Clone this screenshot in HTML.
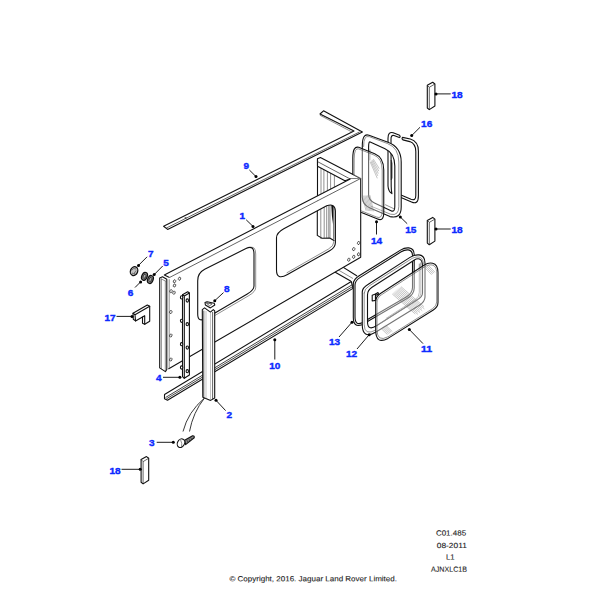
<!DOCTYPE html>
<html><head><meta charset="utf-8"><title>Parts diagram</title>
<style>
html,body{margin:0;padding:0;background:#fff;}
body{width:600px;height:600px;overflow:hidden;font-family:"Liberation Sans",sans-serif;}
svg{display:block}
.o{stroke:#111;stroke-width:1.1;stroke-linejoin:round;stroke-linecap:round}
.w{fill:#fff}
.t{stroke:#444;stroke-width:0.6;fill:none;stroke-linecap:round}
.t2{stroke:#222;stroke-width:0.7;fill:none}
.h{stroke:#7a7a7a;stroke-width:0.45;fill:none}
.ld{stroke:#111;stroke-width:0.95}
.lb{font-family:"Liberation Sans",sans-serif;font-weight:bold;font-size:8.8px;fill:#0c2aff;stroke:#0c2aff;stroke-width:0.35}
.ft{font-family:"Liberation Sans",sans-serif;font-size:7.4px;fill:#1a1a1a;stroke:#1a1a1a;stroke-width:0.1}
path.o:not(.w):not([fill]){fill:none}
</style></head><body>
<svg width="600" height="600" viewBox="0 0 600 600">
<rect width="600" height="600" fill="#fff"/>
<g id="p9">
<path class="o w" d="M163.6,226.3 L354,131 L320,114 L323.5,110.8 L362.4,132 L167.6,229.4 Z"/>
<path class="t2" d="M166.2,228.1 L359.6,131.9"/>
<path class="t" d="M320.2,115.4 L351.8,131.9"/>
<ellipse cx="185.6" cy="218" rx="1.1" ry="0.8" fill="#333"/>
</g>
<g id="ret">
<path class="w" stroke="none" d="M317.5,158.7 L320.4,157.5 L360.7,178.5 L360.7,256 L317.5,256 Z"/>
<line class="t" x1="321" y1="168.1" x2="321" y2="250"/>
<line class="t" x1="323.9" y1="169.6" x2="323.9" y2="250"/>
<line class="t" x1="327.4" y1="171.5" x2="327.4" y2="250"/>
<line class="t" x1="330.6" y1="173.2" x2="330.6" y2="250"/>
<line class="t" x1="334.4" y1="175.2" x2="334.4" y2="250"/>
<path class="o" d="M317.5,158.7 L317.5,250"/>
<path class="o w" d="M317.5,158.7 L320.4,157.5 L360.7,178.5 L350.2,179 L344.9,180.8 L317.5,166.25 Z"/>
<path class="t2" d="M317.5,161.6 L350.2,179"/>
</g>
<g id="p10b">
<path class="w" stroke="none" d="M330,268.5 L337,264.2 L356.7,275.8 L351.3,281.5 Z"/>
<path class="o" d="M337,263.4 L356.7,275.8 M330,269.3 L350.6,280.9"/>
<path class="t" d="M333,266.9 L352.6,278.3"/>
</g>
<g id="p1">
<path class="w" stroke="none" d="M164.3,275 L350.2,179 L360.6,178.5 L169.5,277.5 Z"/>
<path class="o" d="M169.5,277.5 L164.3,275 L350.2,179"/>
<path class="w" stroke="none" d="M166.7,279.2 L169.5,277.5 L360.7,178.5 L360.7,257.2 L168.75,368.75 L166.7,368.75 Z"/>
<path class="o" d="M360.7,178.5 L360.7,257.2 L168.75,368.75"/>
<path class="t" d="M169.2,279.6 L169.2,368.5"/>
<path class="t2" d="M169.5,277.5 L360.6,178.5"/>
<path class="o w" d="M159.7,278 L162.5,276.8 L166.8,279.3 L166.8,369.5 L165.4,371.6 L159.7,367.9 Z"/>
<path class="t" d="M161.4,279 L161.4,368.9 M165.3,281 L165.3,371.2 M161.4,279 L165.3,281"/>
<ellipse cx="179.5" cy="278.7" rx="1.15" ry="1.6" class="t2" transform="rotate(20 179.5 278.7)"/>
<ellipse cx="174.5" cy="281.3" rx="1.15" ry="1.6" class="t2" transform="rotate(20 174.5 281.3)"/>
<ellipse cx="174.5" cy="285.5" rx="1.15" ry="1.6" class="t2" transform="rotate(20 174.5 285.5)"/>
<ellipse cx="171" cy="291.2" rx="1.15" ry="1.6" class="t2" transform="rotate(20 171 291.2)"/>
<ellipse cx="174" cy="292.7" rx="1.15" ry="1.6" class="t2" transform="rotate(20 174 292.7)"/>
<ellipse cx="170.8" cy="312" rx="1.15" ry="1.6" class="t2" transform="rotate(20 170.8 312)"/>
<ellipse cx="170.8" cy="335.5" rx="1.15" ry="1.6" class="t2" transform="rotate(20 170.8 335.5)"/>
<ellipse cx="170.8" cy="359.5" rx="1.15" ry="1.6" class="t2" transform="rotate(20 170.8 359.5)"/>
<ellipse cx="358.6" cy="243" rx="1.15" ry="1.6" class="t2" transform="rotate(20 358.6 243)"/>
<ellipse cx="353.7" cy="249.1" rx="1.15" ry="1.6" class="t2" transform="rotate(20 353.7 249.1)"/>
<ellipse cx="358.6" cy="254.3" rx="1.15" ry="1.6" class="t2" transform="rotate(20 358.6 254.3)"/>
<ellipse cx="353.7" cy="256.8" rx="1.15" ry="1.6" class="t2" transform="rotate(20 353.7 256.8)"/>
<ellipse cx="348.8" cy="259.7" rx="1.15" ry="1.6" class="t2" transform="rotate(20 348.8 259.7)"/>
<path class="t" d="M249.5,247.6 Q255.7,245.2 255.7,254 L255.7,287.5 Q255.7,291.6 249,295.5 L207.7,319.7"/>
<path class="o w" d="M197.7,280.7 Q197.7,272.9 204.7,269.3 L246,248.5 Q254,244.6 254,254 L254,286 Q254,290.1 247.3,294 L206,318.2 Q197.7,323 197.7,314 Z"/>
<clipPath id="crw"><path d="M276.5,237.8 Q276.5,232.7 283.8,228.7 L326.7,205.7 Q335,203 335.4,211 L335.4,242.4 Q335.4,247.5 329.7,250.7 L287.5,274.5 Q276.5,280.7 276.5,270 Z"/></clipPath>
<path class="w" stroke="none" d="M276.5,237.8 Q276.5,232.7 283.8,228.7 L326.7,205.7 Q335,203 335.4,211 L335.4,242.4 Q335.4,247.5 329.7,250.7 L287.5,274.5 Q276.5,280.7 276.5,270 Z"/>
<g clip-path="url(#crw)">
<path class="o" d="M317.3,200 L317.3,235.4 L322,238.3 L329.6,238 L334,240.5"/>
<line class="t" x1="320.8" y1="200" x2="320.8" y2="238.5"/>
<line class="t" x1="324.2" y1="200" x2="324.2" y2="238.5"/>
<line class="t" x1="326.7" y1="200" x2="326.7" y2="238.5"/>
<line class="t" x1="328.75" y1="200" x2="328.75" y2="238.5"/>
<line class="t" x1="330" y1="200" x2="330" y2="238.5"/>
<line class="t" x1="333.75" y1="200" x2="333.75" y2="238.5"/>
<path d="M331.2,204 L333.1,204 L333.1,224.8 Q331.6,216 331.2,204 Z" fill="#111"/>
<path class="t" d="M333.8,207 L333.8,242 Q333.8,246 328.5,249 L287,272.7"/>
</g>
<path class="o" fill="none" d="M276.5,237.8 Q276.5,232.7 283.8,228.7 L326.7,205.7 Q335,203 335.4,211 L335.4,242.4 Q335.4,247.5 329.7,250.7 L287.5,274.5 Q276.5,280.7 276.5,270 Z"/>
</g>
<g id="p10">
<path class="o w" d="M164.5,394.5 L351.3,281.5 L353,288.4 L167.5,400.2 L164.5,398.8 Z"/>
<path class="o" style="stroke-width:0.85;stroke:#222" d="M165.9,397.3 L352.1,284.8 M166.7,398.7 L352.6,286.6"/>
</g>
<g id="p4">
<path class="o w" d="M182.5,294.8 L187.7,291.8 L189.4,293 L189.4,375 L184.3,378.3 L182.5,376.7 Z"/>
<path class="o" d="M184.3,296 L184.3,378.3 M184.3,296 L189.4,293 M182.5,294.8 L184.3,296"/>
<ellipse cx="181.6" cy="297.4" rx="1.2" ry="1.6" class="o w"/>
<ellipse cx="181.6" cy="320.8" rx="1.2" ry="1.6" class="o w"/>
<ellipse cx="181.6" cy="344.2" rx="1.2" ry="1.6" class="o w"/>
<ellipse cx="181.6" cy="367.5" rx="1.2" ry="1.6" class="o w"/>
<ellipse cx="187.3" cy="300.5" rx="1.2" ry="1.6" class="o w"/>
<ellipse cx="187.3" cy="324.2" rx="1.2" ry="1.6" class="o w"/>
<ellipse cx="187.3" cy="347.6" rx="1.2" ry="1.6" class="o w"/>
<ellipse cx="187.3" cy="371.2" rx="1.2" ry="1.6" class="o w"/>
</g>
<path class="t2" style="stroke-width:0.9" fill="none" d="M204.5,398 Q188,412 183,431.5 M204.5,398 Q193,412.5 189.5,431.5"/>
<g id="p2">
<path class="o w" d="M202.3,309.6 L204.6,307.9 L210.4,312.1 L213.3,309.6 L214.7,310.8 L214.7,398 L210.6,400.4 L202.8,397.2 Z"/>
<path class="t2" d="M203.8,310.6 L203.8,397.6 M212.6,312 L212.6,399.2"/>
<path class="h" d="M206,311 L206,398.4 M210.5,312.1 L210.5,400.3"/>
</g>
<path class="o w" d="M205,302.5 L207.1,301.7 L214.2,303.3 L214.8,305 L210.4,307.9 L205.4,305 Z"/>
<path class="t2" d="M206.3,303 L212.1,303.8 L209.6,305.8 Z" fill="#ccc"/>
<ellipse cx="134.05" cy="271.1" rx="3.6" ry="4.5" transform="rotate(22 134.05 271.1)" fill="#c4c4c4" stroke="#111" stroke-width="1.3"/>
<path d="M131.6,270.2 Q133.5,267.4 136,269 M134.6,274.2 Q134.2,271.5 136.3,270.5 M132,273 L134.6,274.2" fill="none" stroke="#333" stroke-width="0.6"/>
<ellipse cx="144.5" cy="276.3" rx="2.7" ry="4.1" transform="rotate(22 144.5 276.3)" fill="#808080" stroke="#111" stroke-width="1.2"/>
<ellipse cx="144.5" cy="276.3" rx="1.3" ry="2.1" transform="rotate(22 144.5 276.3)" fill="#b0b0b0" stroke="#222" stroke-width="0.7"/>
<ellipse cx="150.4" cy="279.5" rx="2.7" ry="4.1" transform="rotate(22 150.4 279.5)" fill="#808080" stroke="#111" stroke-width="1.2"/>
<ellipse cx="150.4" cy="279.5" rx="1.3" ry="2.1" transform="rotate(22 150.4 279.5)" fill="#b0b0b0" stroke="#222" stroke-width="0.7"/>
<path class="o w" d="M133,313.3 L147.3,305 L149.7,306.3 L149.7,321.3 L144.7,324.3 L142.5,323.3 L142.5,317 L135.5,320.9 L133.3,319.3 Z"/>
<path class="o" d="M133,313.3 L135,314.7 L149.7,306.3 M135,314.7 L135.5,320.9 M144.7,315.7 L144.7,324.3 M142.5,317 L144.7,315.7"/>
<path class="o" fill="#8a8a8a" d="M184.6,440.2 L192.6,435.8 Q194.6,435.6 194.2,437.8 L185.6,444.6 Z"/>
<path d="M186.6,439.4 L188,442.6 M188.6,438.3 L190,441.2 M190.6,437.2 L191.9,439.8" stroke="#222" stroke-width="0.6" fill="none"/>
<ellipse cx="181" cy="443.2" rx="3.5" ry="4.5" transform="rotate(28 181 443.2)" class="o" fill="#fff"/>
<path class="t" d="M180.8,440.3 Q182.4,443.5 181.6,446.4"/>
<g transform="translate(0,0)">
<path class="o w" d="M427.3,85.3 L432.7,82.3 L434.9,84 L434.9,106 L429.3,109.6 L427.3,108 Z"/>
<path class="t2" d="M427.3,85.3 L429.3,87.3 L434.9,84 M429.3,87.3 L429.3,109.6"/>
</g>
<g transform="translate(0,135.1)">
<path class="o w" d="M427.3,85.3 L432.7,82.3 L434.9,84 L434.9,106 L429.3,109.6 L427.3,108 Z"/>
<path class="t2" d="M427.3,85.3 L429.3,87.3 L434.9,84 M429.3,87.3 L429.3,109.6"/>
</g>
<g transform="translate(-286.2,374.3)">
<path class="o w" d="M427.3,85.3 L432.7,82.3 L434.9,84 L434.9,106 L429.3,109.6 L427.3,108 Z"/>
<path class="t2" d="M427.3,85.3 L429.3,87.3 L434.9,84 M429.3,87.3 L429.3,109.6"/>
</g>
<g id="p16">
<path class="o" fill="#fff" d="M402.6,137.4 L410.3,139 Q418.4,141.5 418.4,151 L418.4,196 Q418.4,205 411.5,201.9 L398,196.3 L398,193.8 L411,199.3 Q415.8,201 415.8,195.5 L415.8,151.5 Q415.8,143.8 409.8,141.6 L402.9,139.9 Q401.3,138.5 402.6,137.4 Z"/>
<path class="o" fill="#fff" d="M399.6,135.3 L393.2,132.7 Q388,131.3 388,138.3 L388,186 Q388.4,191.5 391.9,193.6 Q391.2,190 391.2,186.3 L391,139.5 Q390.8,134.6 394,135.5 L399.3,137.6 Q400.9,136.8 399.6,135.3 Z"/>
<path d="M391.2,160 L392.1,163 L392.1,178 L391.2,180 Z" fill="#222" stroke="#222" stroke-width="0.5"/>
</g>
<path class="o" fill="#fff" fill-rule="evenodd" d="M362.3,146 Q362.3,132.8 369,135.3 L388,142.2 Q401.2,147 401.2,162 L401.2,207 Q401.2,219.2 390,216.6 L370,208 Q362.3,204.7 362.3,197 Z M368.6,147 Q368.6,141.2 370.2,141.9 L385,148.8 Q394.8,153.3 394.8,166 L394.8,206.5 Q394.8,212.6 391,210.7 L374.5,203 Q368.6,200.2 368.6,194.5 Z"/>
<path class="t" fill="none" d="M363.6,146.5 Q363.6,134.6 369.4,136.7 L387.4,143.5 Q398.8,147.8 398.8,162 L398.8,206.5 Q398.8,216.2 390.5,214.2 L371,206.2"/>
<path class="t" fill="none" d="M393.6,208.6 L385.5,204.8 M369.9,150 L369.9,160"/>
<clipPath id="c14"><rect x="361.1" y="100" width="60" height="200"/><path d="M340,100 L420,100 L420,178.9 L361.1,178.9 L320.4,157.6 L340,140 Z"/></clipPath>
<g clip-path="url(#c14)">
<path class="o" fill="#fff" fill-opacity="0.35" d="M352.8,158 Q352.8,145.6 358.7,147.3 L374.7,153.7 Q383.75,157.5 383.75,170 L383.75,212.5 Q383.75,222 377,218.8 L352.8,209.1 Z"/>
<path class="t" fill="none" d="M354.2,158.5 Q354.2,147.5 358.7,148.9 L374,155 Q382.2,158.5 382.2,170 L382.2,211 Q382.2,219.5 376.5,217 L354.2,208 Z"/>
<line class="h" x1="370.20" y1="162.00" x2="377.30" y2="178.30"/>
<line class="h" x1="370.97" y1="161.28" x2="377.80" y2="175.90"/>
<line class="h" x1="371.75" y1="160.55" x2="378.30" y2="173.50"/>
<line class="h" x1="372.52" y1="159.82" x2="378.80" y2="171.10"/>
<line class="h" x1="373.30" y1="159.10" x2="379.30" y2="168.70"/>
<line class="h" x1="362.40" y1="195.70" x2="366.00" y2="210.60"/>
<line class="h" x1="363.65" y1="195.62" x2="367.25" y2="210.72"/>
<line class="h" x1="364.90" y1="195.54" x2="368.50" y2="210.84"/>
<line class="h" x1="366.15" y1="195.46" x2="369.75" y2="210.96"/>
<line class="h" x1="367.40" y1="195.38" x2="371.00" y2="211.08"/>
<line class="h" x1="368.65" y1="195.30" x2="372.25" y2="211.20"/>
<line class="h" x1="369.90" y1="195.22" x2="373.50" y2="211.32"/>
</g>
<path class="o" fill="#fff" fill-rule="evenodd" d="M353.3,284 Q353.3,279.4 359.2,275.8 L400.5,250.1 C404.5,247.6 414,245.3 414.2,254.5 L414.2,288 Q414.2,294.5 407,298.6 L362,324.7 Q353.3,328 353.3,317.3 Z M355,285 Q355,280.7 360.3,277.4 L401.2,251.8 C404.6,249.7 412.4,247.6 412.5,255.5 L412.5,287.5 Q412.5,293.4 405.8,297.2 L362,322.8 Q355,326 355,316.8 Z"/>
<path class="o" fill="#fff" fill-rule="evenodd" d="M362.25,292 Q362.25,287.8 368.3,284.2 L410,257.4 C414.5,254.5 424.8,251.8 425,263 L425,297 Q425,301.8 419,305.5 L376,332 Q362.25,340 362.25,324.3 Z M367.5,295 Q367.5,290.2 372,287.3 L414,260.2 C417,258.3 422.5,257 422.5,266 L422.5,293 Q422.5,297 417,300 L376.5,325.8 Q367.5,331.5 367.5,321.5 Z"/>
<path class="t" fill="none" d="M364.2,293 Q364.2,289 369.4,285.8 L411,259.1 C415,256.6 423.2,254.4 423.3,264"/>
<path class="t" fill="none" d="M364.2,293 L364.2,324.3 Q364.2,336.5 376,330"/>
<path class="t" fill="none" d="M419.3,264 L419.3,292.5 Q419.3,297 415,299.8 L386.2,318.3"/>
<path class="t" fill="none" d="M420.8,263 L420.8,293.3 Q420.8,297.6 416,300.6 L380,323.6"/>
<path class="o w" d="M372.2,295.2 L375.5,294 L378,292.6 L378.6,294 L375.5,295.6 L375.5,300.4 L372.2,301 Z"/>
<path class="o" d="M375.5,294 L375.5,300.4"/>
<path class="o" fill="#fff" fill-opacity="0.42" d="M375.7,301.7 Q375.7,296.5 380.8,293.3 L424,265.2 C428.5,262.3 437.8,260.6 438,272.5 L438,302.5 Q438,307 433.3,310 L388,338.4 Q375.7,345 375.7,330 Z"/>
<path class="t" fill="none" d="M377,302.5 Q377,297.7 381.6,294.7 L424.6,266.8 C428.6,264.2 436.6,262.6 436.7,273 L436.7,302 Q436.7,305.9 432.5,308.7 L388,336.8 Q377,342.5 377,330 Z"/>
<line class="h" x1="392.30" y1="294.00" x2="415.30" y2="314.01"/>
<line class="h" x1="393.38" y1="293.08" x2="417.88" y2="314.39"/>
<line class="h" x1="394.46" y1="292.16" x2="417.46" y2="312.17"/>
<line class="h" x1="395.54" y1="291.24" x2="420.04" y2="312.56"/>
<line class="h" x1="396.62" y1="290.32" x2="419.62" y2="310.33"/>
<line class="h" x1="397.70" y1="289.40" x2="422.20" y2="310.71"/>
<line class="h" x1="398.78" y1="288.48" x2="421.78" y2="308.49"/>
<line class="h" x1="399.86" y1="287.56" x2="424.36" y2="308.88"/>
<line class="h" x1="400.94" y1="286.64" x2="423.94" y2="306.65"/>
<line class="h" x1="424.60" y1="267.40" x2="431.60" y2="274.70"/>
<line class="h" x1="425.75" y1="266.60" x2="432.75" y2="273.90"/>
<line class="h" x1="426.90" y1="265.80" x2="433.90" y2="273.10"/>
<line class="h" x1="428.05" y1="265.00" x2="435.05" y2="272.30"/>
<line class="h" x1="381.00" y1="328.40" x2="387.50" y2="334.60"/>
<line class="h" x1="382.20" y1="327.65" x2="388.70" y2="333.85"/>
<line class="h" x1="383.40" y1="326.90" x2="389.90" y2="333.10"/>
<line class="h" x1="384.60" y1="326.15" x2="391.10" y2="332.35"/>
<line class="h" x1="385.80" y1="325.40" x2="392.30" y2="331.60"/>
<line x1="253" y1="226.4" x2="246.2" y2="219.8" class="ld"/><circle cx="253" cy="226.4" r="1.5" fill="#000"/>
<text x="239.6" y="218.8" textLength="5.6" lengthAdjust="spacingAndGlyphs" class="lb">1</text>
<line x1="216" y1="400.3" x2="225.6" y2="410.6" class="ld"/><circle cx="216" cy="400.3" r="1.5" fill="#000"/>
<text x="226.5" y="418.1" textLength="5.6" lengthAdjust="spacingAndGlyphs" class="lb">2</text>
<line x1="173.3" y1="442.3" x2="156.7" y2="442.3" class="ld"/><circle cx="173.3" cy="442.3" r="1.5" fill="#000"/>
<text x="148.9" y="446.4" textLength="5.6" lengthAdjust="spacingAndGlyphs" class="lb">3</text>
<line x1="179.9" y1="377.3" x2="163" y2="377.3" class="ld"/><circle cx="179.9" cy="377.3" r="1.5" fill="#000"/>
<text x="156.1" y="381.3" textLength="5.6" lengthAdjust="spacingAndGlyphs" class="lb">4</text>
<line x1="154.2" y1="274.6" x2="162.7" y2="266" class="ld"/><circle cx="154.2" cy="274.6" r="1.5" fill="#000"/>
<text x="163.3" y="266.0" textLength="5.6" lengthAdjust="spacingAndGlyphs" class="lb">5</text>
<line x1="140.6" y1="281.9" x2="135" y2="287.5" class="ld"/><circle cx="140.6" cy="281.9" r="1.5" fill="#000"/>
<text x="127.8" y="296.2" textLength="5.6" lengthAdjust="spacingAndGlyphs" class="lb">6</text>
<line x1="138.5" y1="265.4" x2="147.1" y2="256.8" class="ld"/><circle cx="138.5" cy="265.4" r="1.5" fill="#000"/>
<text x="147.9" y="256.9" textLength="5.6" lengthAdjust="spacingAndGlyphs" class="lb">7</text>
<line x1="214.75" y1="300.7" x2="223.5" y2="292.6" class="ld"/><circle cx="214.75" cy="300.7" r="1.5" fill="#000"/>
<text x="224.0" y="292.4" textLength="5.6" lengthAdjust="spacingAndGlyphs" class="lb">8</text>
<line x1="256" y1="176.6" x2="249.4" y2="170" class="ld"/><circle cx="256" cy="176.6" r="1.5" fill="#000"/>
<text x="243.6" y="169.2" textLength="5.6" lengthAdjust="spacingAndGlyphs" class="lb">9</text>
<line x1="274.8" y1="339.7" x2="274.8" y2="359.5" class="ld"/><circle cx="274.8" cy="339.7" r="1.5" fill="#000"/>
<text x="269.2" y="369.1" textLength="11.2" lengthAdjust="spacingAndGlyphs" class="lb">10</text>
<line x1="409.3" y1="329.5" x2="423" y2="343.6" class="ld"/><circle cx="409.3" cy="329.5" r="1.5" fill="#000"/>
<text x="421.0" y="352.1" textLength="11.2" lengthAdjust="spacingAndGlyphs" class="lb">11</text>
<line x1="369.2" y1="334.7" x2="357" y2="349" class="ld"/><circle cx="369.2" cy="334.7" r="1.5" fill="#000"/>
<text x="346.0" y="357.2" textLength="11.2" lengthAdjust="spacingAndGlyphs" class="lb">12</text>
<line x1="352" y1="322.2" x2="339" y2="337" class="ld"/><circle cx="352" cy="322.2" r="1.5" fill="#000"/>
<text x="328.9" y="345.2" textLength="11.2" lengthAdjust="spacingAndGlyphs" class="lb">13</text>
<line x1="376.5" y1="221.75" x2="376.5" y2="234.5" class="ld"/><circle cx="376.5" cy="221.75" r="1.5" fill="#000"/>
<text x="370.9" y="243.7" textLength="11.2" lengthAdjust="spacingAndGlyphs" class="lb">14</text>
<line x1="400.3" y1="217" x2="407.2" y2="223.7" class="ld"/><circle cx="400.3" cy="217" r="1.5" fill="#000"/>
<text x="405.2" y="232.7" textLength="11.2" lengthAdjust="spacingAndGlyphs" class="lb">15</text>
<line x1="411.7" y1="135.6" x2="420" y2="127.3" class="ld"/><circle cx="411.7" cy="135.6" r="1.5" fill="#000"/>
<text x="421.1" y="127.2" textLength="11.2" lengthAdjust="spacingAndGlyphs" class="lb">16</text>
<line x1="132" y1="316.4" x2="116.5" y2="316.4" class="ld"/><circle cx="132" cy="316.4" r="1.5" fill="#000"/>
<text x="104.4" y="321.1" textLength="11.2" lengthAdjust="spacingAndGlyphs" class="lb">17</text>
<line x1="436" y1="93.9" x2="450.7" y2="93.9" class="ld"/><circle cx="436" cy="93.9" r="1.5" fill="#000"/>
<text x="451.4" y="98.2" textLength="11.2" lengthAdjust="spacingAndGlyphs" class="lb">18</text>
<line x1="436" y1="229" x2="450.7" y2="229" class="ld"/><circle cx="436" cy="229" r="1.5" fill="#000"/>
<text x="451.4" y="233.2" textLength="11.2" lengthAdjust="spacingAndGlyphs" class="lb">18</text>
<line x1="140.2" y1="469.3" x2="121.5" y2="469.3" class="ld"/><circle cx="140.2" cy="469.3" r="1.5" fill="#000"/>
<text x="109.4" y="474.1" textLength="11.2" lengthAdjust="spacingAndGlyphs" class="lb">18</text>
<text x="435.9" y="535.4" textLength="30.2" lengthAdjust="spacingAndGlyphs" class="ft" transform="rotate(0.03 451.0 532.6)">C01.485</text>
<text x="436.8" y="547.9" textLength="30.0" lengthAdjust="spacingAndGlyphs" class="ft" transform="rotate(0.03 451.8 545.1)">08-2011</text>
<text x="445.9" y="559.6" textLength="8.6" lengthAdjust="spacingAndGlyphs" class="ft" transform="rotate(0.03 450.2 556.9)">L1</text>
<text x="431.1" y="571.8" textLength="35.9" lengthAdjust="spacingAndGlyphs" class="ft" transform="rotate(0.03 449.0 569.0)">AJNXLC1B</text>
<text x="229.4" y="581.2" textLength="167.6" lengthAdjust="spacingAndGlyphs" class="ft" transform="rotate(0.03 313.2 578.5)">© Copyright, 2016. Jaguar Land Rover Limited.</text>
</svg>
</body></html>
